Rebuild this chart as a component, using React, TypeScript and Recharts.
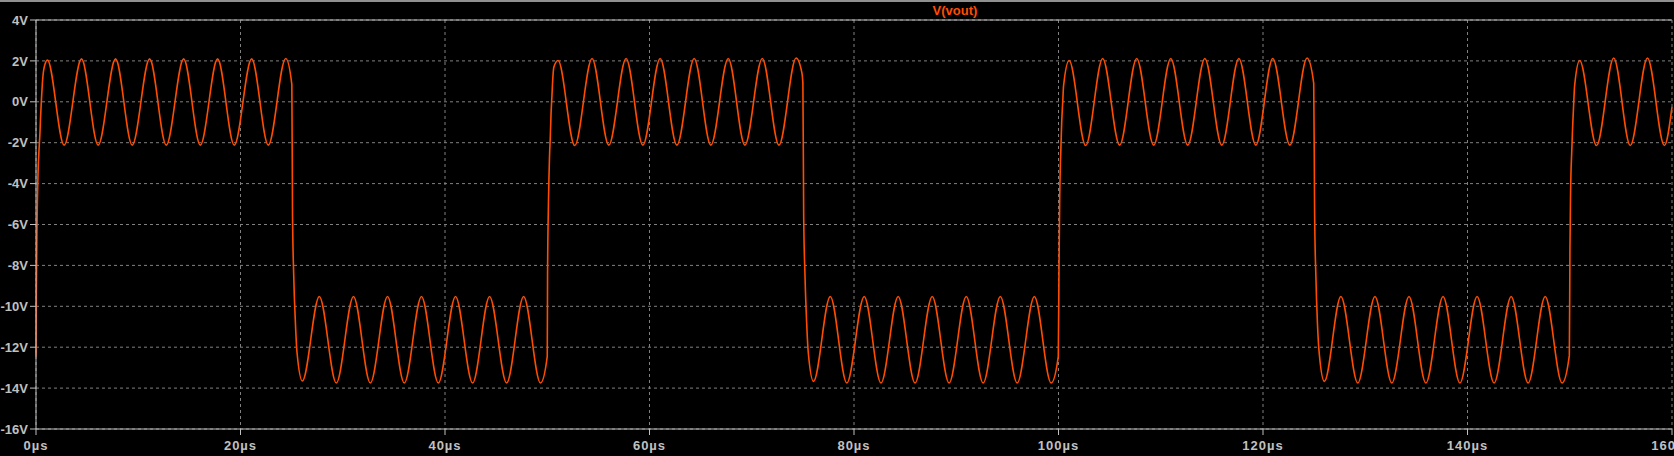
import { LineChart, Line, XAxis, YAxis, CartesianGrid, ReferenceLine } from 'recharts';

// V(vout) transient. [time µs, volts]
const riseAt0: [number, number][] = [
  [0, -12.45], [0.03, -9.5], [0.1, -6.0], [0.2, -3.5], [0.3, -2.3], [0.38, -1.6],
  [0.46, -0.6], [0.55, 0.26], [0.65, 1.08], [0.82, 1.73],
];
const highTo25: [number, number][] = [
  [1.12, 2.04], [2.75, -2.12], [4.45, 2.1], [6.08, -2.12], [7.78, 2.1], [9.41, -2.12],
  [11.11, 2.1], [12.74, -2.12], [14.44, 2.1], [16.07, -2.12], [17.76, 2.1], [19.39, -2.12],
  [21.09, 2.1], [22.72, -2.12], [24.42, 2.12], [25.02, 0.85],
];
const lowTo50: [number, number][] = [
  [25.09, -5.6], [25.2, -8.4], [25.37, -10.8], [25.53, -12.27], [26.05, -13.65],
  [27.71, -9.52], [29.37, -13.75], [31.05, -9.52], [32.7, -13.75], [34.38, -9.52],
  [36.02, -13.75], [37.7, -9.52], [39.35, -13.75], [41.03, -9.52], [42.7, -13.75],
  [44.36, -9.52], [46.03, -13.75], [47.69, -9.52], [49.34, -13.75],
  [50.0, -12.45], [50.03, -8.5], [50.12, -4.9], [50.22, -2.7], [50.3, -1.7],
  [50.37, -0.6], [50.46, 0.3], [50.55, 1.2], [50.65, 1.7],
];
const highTo75: [number, number][] = [
  [51.06, 2.02], [52.69, -2.14], [54.38, 2.12], [56.02, -2.12], [57.71, 2.12], [59.35, -2.12],
  [61.04, 2.12], [62.68, -2.12], [64.37, 2.12], [66.0, -2.12], [67.7, 2.12], [69.33, -2.12],
  [71.03, 2.12], [72.66, -2.12], [74.34, 2.14], [74.91, 1.4], [75.0, 0.92],
];
const lowTo100: [number, number][] = [
  [75.08, -5.6], [75.2, -8.37], [75.37, -10.8], [75.53, -12.27], [76.04, -13.67],
  [77.68, -9.52], [79.3, -13.75], [81.0, -9.52], [82.64, -13.75], [84.32, -9.52],
  [85.97, -13.75], [87.65, -9.52], [89.3, -13.75], [90.98, -9.52], [92.63, -13.75],
  [94.31, -9.52], [95.96, -13.75], [97.64, -9.52], [99.28, -13.75],
  [99.98, -12.45], [100.05, -8.05], [100.12, -4.63], [100.22, -2.5], [100.31, -1.04],
  [100.4, -0.14], [100.5, 0.8],
];
const highTo125: [number, number][] = [
  [101.04, 2.02], [102.66, -2.14], [104.32, 2.12], [105.98, -2.12], [107.65, 2.12], [109.31, -2.12],
  [110.98, 2.12], [112.64, -2.12], [114.31, 2.12], [115.97, -2.12], [117.64, 2.12], [119.3, -2.12],
  [120.96, 2.12], [122.63, -2.12], [124.31, 2.14], [124.96, 0.9],
];
const lowTo150: [number, number][] = [
  [125.05, -5.5], [125.17, -8.5], [125.33, -10.9], [125.5, -12.3], [126.0, -13.67],
  [127.62, -9.52], [129.27, -13.75], [130.95, -9.52], [132.6, -13.75], [134.28, -9.52],
  [135.93, -13.75], [137.61, -9.52], [139.26, -13.75], [140.94, -9.52], [142.6, -13.75],
  [144.27, -9.52], [145.93, -13.75], [147.6, -9.52], [149.25, -13.75],
  [149.96, -12.4], [150.02, -7.15], [150.09, -4.2], [150.19, -2.5], [150.29, -1.12],
  [150.38, -0.14], [150.48, 0.8],
];
const highTo160: [number, number][] = [
  [150.97, 2.02], [152.62, -2.14], [154.3, 2.14], [155.92, -2.14], [157.6, 2.14],
  [159.26, -2.14], [160, -0.25],
];

const xTicks = [0, 20, 40, 60, 80, 100, 120, 140, 160];
const yTicks = [-16, -14, -12, -10, -8, -6, -4, -2, 0, 2, 4];

const data = [
  ...riseAt0, ...highTo25, ...lowTo50, ...highTo75,
  ...lowTo100, ...highTo125, ...lowTo150, ...highTo160,
].map(([t, v]) => ({ t, v }));

const TRACE = '#ff4d00';
const AXIS = '#c0c0c0';
const FONT = '"Liberation Sans", Arial, sans-serif';

export default function App() {
  return (
    <div style={{ position: 'absolute', left: 0, top: 0, width: 1674, height: 456, background: '#000', overflow: 'hidden' }}>
      <div style={{ position: 'absolute', left: 0, top: 0, width: 1674, height: 2, background: '#909090' }} />
      <div
        style={{
          position: 'absolute', left: 955, top: 3, transform: 'translateX(-50%)',
          color: TRACE, fontFamily: FONT, fontWeight: 'bold', fontSize: 13, lineHeight: '15px', whiteSpace: 'nowrap',
        }}
      >
        V(vout)
      </div>
      <LineChart width={1674} height={456} data={data} margin={{ top: 20, right: 2, bottom: 0, left: 0 }}>
        <CartesianGrid stroke="#808080" strokeDasharray="3 3" />
        <XAxis
          type="number"
          dataKey="t"
          domain={[0, 160]}
          ticks={xTicks}
          interval={0}
          height={27}
          tickSize={6}
          tickMargin={6}
          stroke={AXIS}
          tickFormatter={(v) => `${v}µs`}
          tick={{ fill: AXIS, fontSize: 13, fontWeight: 'bold', fontFamily: FONT, letterSpacing: 1 }}
        />
        <YAxis
          type="number"
          domain={[-16, 4]}
          ticks={yTicks}
          interval={0}
          width={36}
          tickSize={6}
          tickMargin={2}
          stroke={AXIS}
          tickFormatter={(v) => `${v}V`}
          tick={{ fill: AXIS, fontSize: 13, fontWeight: 'bold', fontFamily: FONT }}
        />
        <ReferenceLine y={4} stroke={AXIS} strokeWidth={1} />
        <Line
          type="monotone"
          dataKey="v"
          stroke={TRACE}
          strokeWidth={1.6}
          dot={false}
          isAnimationActive={false}
        />
      </LineChart>
    </div>
  );
}
